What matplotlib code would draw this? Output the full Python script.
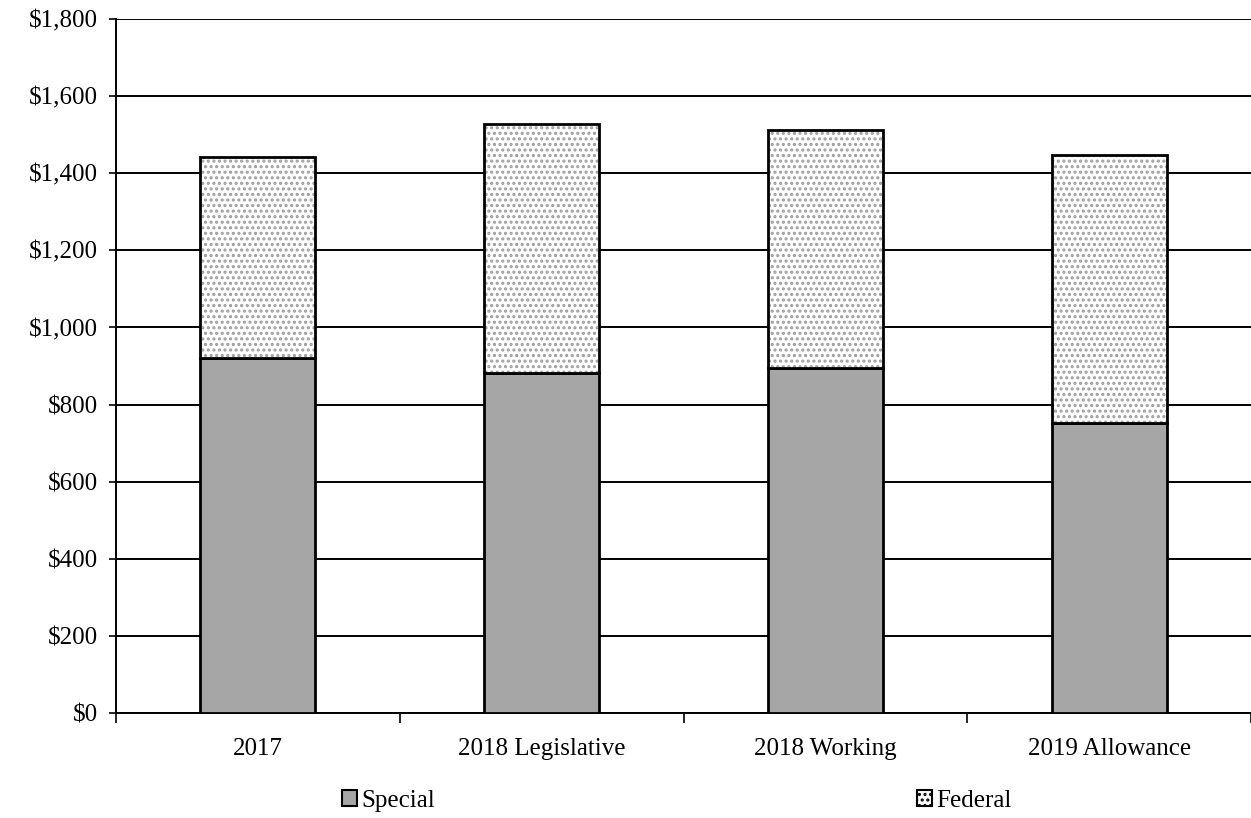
import matplotlib
matplotlib.use('Agg')
import matplotlib.pyplot as plt
from matplotlib.patches import Patch
from matplotlib.ticker import FuncFormatter

# spending by fund, $ thousands
categories = ['2017', '2018 Legislative', '2018 Working', '2019 Allowance']
special = [921, 882, 895, 752]
federal = [521, 645, 617, 695]

plt.rcParams['font.family'] = ['Liberation Serif', 'DejaVu Serif']
plt.rcParams['font.size'] = 18
plt.rcParams['hatch.linewidth'] = 1.5

fig = plt.figure(figsize=(12.51, 8.18), dpi=100)
ax = fig.add_axes([116 / 1251, 1 - 713 / 818, 1 - 116 / 1251, (713 - 19) / 818])

x = list(range(len(categories)))
width = 0.405
gray = '#a6a6a6'
dot = '#9e9e9e'

ax.bar(x, special, width, color=gray, edgecolor='black', linewidth=2.0, zorder=3)
# dotted fill first, then the black outline on top
ax.bar(x, federal, width, bottom=special, color='white', edgecolor=dot,
       hatch='...', linewidth=0, zorder=3)
ax.bar(x, federal, width, bottom=special, fill=False, edgecolor='black',
       linewidth=2.0, zorder=4)

ax.set_ylim(0, 1800)
ax.set_yticks(range(0, 1801, 200))
ax.yaxis.set_major_formatter(FuncFormatter(lambda v, p: '${:,.0f}'.format(v)))
ax.yaxis.grid(True, color='black', linewidth=1.4, zorder=0)
ax.set_axisbelow(True)

ax.set_xlim(-0.5, len(categories) - 0.5)
ax.set_xticks([i - 0.5 for i in range(len(categories) + 1)])
ax.set_xticklabels([])
ax.set_xticks(x, minor=True)
ax.set_xticklabels(categories, minor=True)
ax.tick_params(axis='x', which='major', length=7, width=1.2, direction='out', color='black')
ax.tick_params(axis='x', which='minor', length=0, pad=18)
ax.tick_params(axis='y', length=5, width=1.2, direction='out', pad=8)

for side in ('top', 'right'):
    ax.spines[side].set_visible(False)
for side in ('left', 'bottom'):
    ax.spines[side].set_linewidth(1.4)

handles = [
    Patch(facecolor=gray, edgecolor='black', linewidth=1.5, label='Special'),
    Patch(facecolor='white', edgecolor=dot, hatch='...', linewidth=1.5, label='Federal'),
]
leg = fig.legend(handles=handles, loc='center', ncol=2, frameon=False,
                 bbox_to_anchor=(677 / 1251, 1 - 801 / 818),
                 handlelength=0.6, handleheight=0.6, handletextpad=0.15,
                 columnspacing=19.3)
for h in leg.legend_handles:
    h.set_edgecolor('black')

fig.savefig('out.png', dpi=100)
